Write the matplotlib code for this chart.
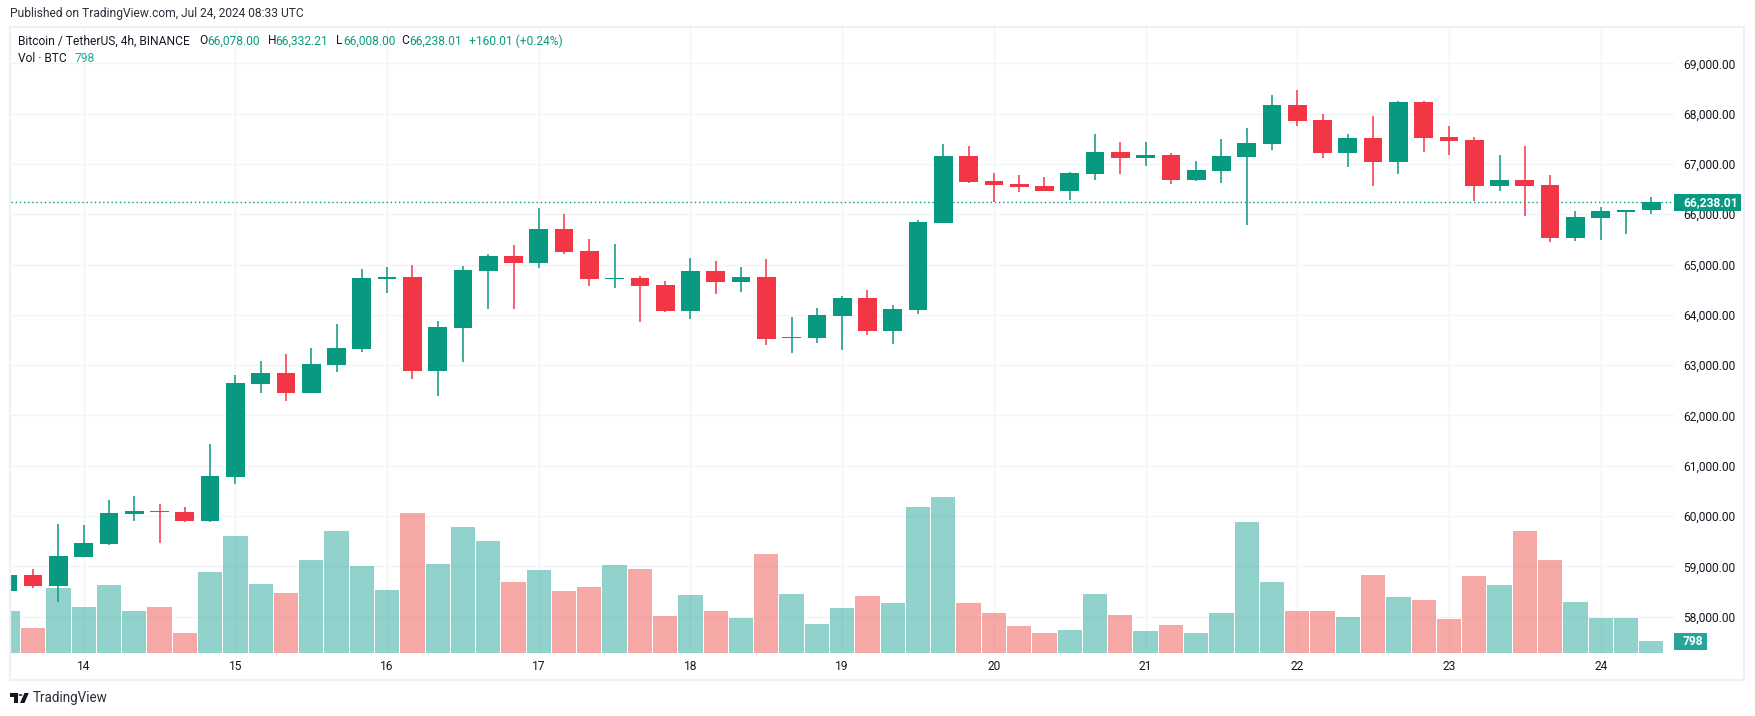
import matplotlib
matplotlib.use("Agg")
import matplotlib.pyplot as plt
import numpy as np
from matplotlib.patches import Circle, Polygon, Rectangle

# BTC/USDT 4h candles
opens = [58509, 58821, 58609, 59185, 59444, 60041, 60094, 60074, 59902, 60777, 62626, 62839,
         62447, 63004, 63323, 64708, 64748, 62885, 63740, 64867, 65166, 65027, 65704, 65265,
         64715, 64728, 64589, 64078, 64867, 64649, 64748, 63541, 63535, 63972, 64330, 63674,
         64092, 65822, 67155, 66658, 66598, 66558, 66459, 66797, 67234, 67115, 67174, 66677,
         66867, 67146, 67404, 68180, 67882, 67225, 67524, 67046, 68240, 67544, 67484, 66569,
         66688, 66589, 65535, 65933, 66052, 66078]
highs = [58830, 58953, 59848, 59829, 60326, 60392, 60233, 60173, 61426, 62799, 63077, 63230,
         63336, 63813, 64907, 64947, 64987, 63873, 64967, 65206, 65385, 66116, 66002, 65505,
         65404, 64768, 64669, 65126, 65066, 64947, 65106, 63952, 64131, 64370, 64489, 64191,
         65882, 67393, 67354, 66817, 66777, 66737, 66837, 67592, 67433, 67433, 67214, 67055,
         67504, 67723, 68379, 68478, 68001, 67603, 67961, 68260, 68260, 67762, 67544, 67186,
         67365, 66788, 66072, 66151, 66092, 66332.21]
lows = [58500, 58569, 58290, 59185, 59418, 59895, 59464, 59882, 59882, 60637, 62447, 62288,
        62447, 62865, 63263, 64436, 62726, 62388, 63057, 64118, 64112, 64934, 65206, 64576,
        64536, 63853, 64052, 63913, 64410, 64450, 63396, 63236, 63435, 63296, 63594, 63415,
        64012, 65822, 66618, 66233, 66439, 66459, 66280, 66677, 66797, 66956, 66598, 66660,
        66629, 65793, 67285, 67762, 67126, 66947, 66569, 66808, 67245, 67186, 66271, 66470,
        65972, 65455, 65475, 65495, 65614, 66008]
closes = [58821, 58609, 59199, 59457, 60054, 60094, 60074, 59902, 60790, 62640, 62839, 62447,
          63018, 63336, 64728, 64748, 62885, 63754, 64887, 65166, 65027, 65704, 65252, 64708,
          64728, 64576, 64078, 64867, 64649, 64748, 63515, 63554, 63992, 64330, 63674, 64112,
          65842, 67155, 66638, 66578, 66538, 66459, 66817, 67234, 67115, 67174, 66677, 66876,
          67166, 67424, 68180, 67862, 67225, 67524, 67046, 68240, 67524, 67464, 66569, 66688,
          66569, 65535, 65952, 66072, 66092, 66238.01]
volumes = [2771, 1641, 4301, 3037, 4501, 2771, 3037, 1308, 5365, 7760, 4567, 3968,
           6163, 8092, 5764, 4168, 9289, 5897, 8358, 7427, 4700, 5498, 4101, 4390,
           5853, 5587, 2461, 3858, 2793, 2328, 6585, 3924, 1929, 2993, 3791, 3326,
           9710, 10376, 3326, 2660, 1796, 1330, 1530, 3924, 2527, 1463, 1862, 1330,
           2660, 8713, 4722, 2793, 2793, 2394, 5188, 3725, 3525, 2261, 5121, 4523,
           8114, 6185, 3392, 2328, 2328, 798]

day_labels = ["14", "15", "16", "17", "18", "19", "20", "21", "22", "23", "24"]
first_day_index = 3
candles_per_day = 6
price_ticks = np.arange(58000, 70000, 1000)

W, H = 1755, 716
GREEN = "#089981"
RED = "#F23645"
TEXT = "#131722"
GRID = "#F3F4F7"
BORDER = "#EEF0F6"

plt.rcParams["font.family"] = ["Roboto", "DejaVu Sans"]


# pixel helpers, y counted from the top of the picture like in the screenshot
def fx(x):
    return x / W


def fy(y):
    return 1 - y / H


def pt(px):
    return px * 0.72


def label(x, y, s, color=TEXT, size=12, **kw):
    fig.text(fx(x), fy(y), s, color=color, fontsize=pt(size), va="center", **kw)


fig = plt.figure(figsize=(W / 100, H / 100), dpi=100)
fig.add_artist(Rectangle((fx(10), fy(680)), fx(1734), (680 - 27) / H, transform=fig.transFigure,
                         fill=False, ec=BORDER, lw=1.6))

ax = fig.add_axes([fx(11), fy(653), fx(1663), (653 - 28) / H])
for s in ax.spines.values():
    s.set_visible(False)

x = np.arange(len(closes))
o = np.array(opens)
c = np.array(closes)
up = c >= o
colors = [GREEN if u else RED for u in up]
vol_colors = ["#26A69A" if u else "#EF5350" for u in up]

ymin, ymax = 57276, 69702
ax.set_xlim(0.125, 65.9)
ax.set_ylim(ymin, ymax)

# volume pane shares the price axes, scaled to price units
vol_scale = 0.2992
ax.bar(x, np.array(volumes) * vol_scale, width=0.96, bottom=ymin, color=vol_colors, alpha=0.5,
       lw=0, zorder=2)

ax.axhline(closes[-1], color=GREEN, lw=1.0, ls=(0, (1, 2)), zorder=1.5)
ax.vlines(x, lows, highs, colors=colors, lw=1.1, zorder=3)
ax.bar(x, np.maximum(np.abs(c - o), 20), width=0.74, bottom=np.minimum(o, c), color=colors, lw=0,
       zorder=4)

day_ticks = first_day_index + candles_per_day * np.arange(len(day_labels))
ax.set_xticks(day_ticks)
ax.set_xticklabels(day_labels)
ax.set_yticks(price_ticks)
ax.set_yticklabels([f"{p:,.2f}" for p in price_ticks])
ax.yaxis.tick_right()
ax.tick_params(axis="x", length=0, pad=5, labelsize=pt(12), labelcolor=TEXT)
ax.tick_params(axis="y", length=0, pad=6.5, labelsize=pt(12), labelcolor=TEXT)
ax.grid(True, color=GRID, lw=1.0, zorder=0)
ax.set_axisbelow(True)

# last price and last volume tags on the price scale
fig.canvas.draw()
last_y = H - ax.transData.transform((0, closes[-1]))[1]
fig.add_artist(Rectangle((fx(1674), fy(last_y + 8.5)), 67 / W, 17 / H, transform=fig.transFigure,
                         fc=GREEN, ec="none", zorder=5))
label(1683, last_y, f"{closes[-1]:,.2f}", color="white", weight="bold", zorder=6)
fig.add_artist(Rectangle((fx(1674), fy(650)), 33 / W, 17 / H, transform=fig.transFigure,
                         fc="#26A69A", ec="none", zorder=5))
label(1683, 641.5, f"{volumes[-1]}", color="white", weight="bold", zorder=6)

# header and legend
label(10, 14, "Published on TradingView.com, Jul 24, 2024 08:33 UTC", color="#2A2E39", size=12)
label(18.5, 41, "Bitcoin / TetherUS, 4h, BINANCE", size=12)
for lx, s in [(199.6, "O"), (267.6, "H"), (335.6, "L"), (401.6, "C")]:
    label(lx, 41, s, size=12)
for lx, s in [(207.5, "66,078.00"), (275.5, "66,332.21"), (343, "66,008.00"),
              (409.5, "66,238.01"), (468.8, "+160.01 (+0.24%)")]:
    label(lx, 41, s, color=GREEN, size=12)
label(18.5, 58, "Vol · BTC", size=12)
label(74.3, 58, "798", color="#22AB94", size=12)

# logo
label(32.5, 698, "TradingView", color="#2A2E39", size=13.5)
logo = [Polygon([(fx(a), fy(b)) for a, b in pts], closed=True)
        for pts in [[(9.6, 693), (18, 693), (18, 703), (13.8, 703), (13.8, 697), (9.6, 697)],
                    [(24.5, 693), (28.8, 693), (24.5, 703), (20, 703)]]]
logo.append(Circle((fx(20.5), fy(695)), 2 / W))
for p in logo:
    p.set(transform=fig.transFigure, fc="#131722", ec="none")
    fig.add_artist(p)

fig.savefig("out.png", dpi=100, facecolor="white")
